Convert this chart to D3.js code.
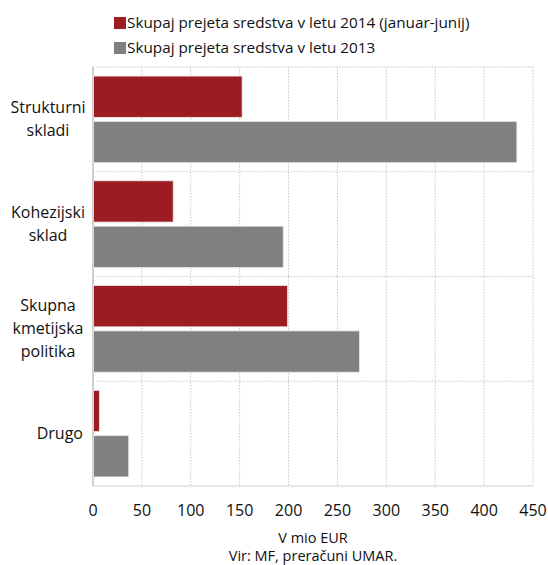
<!DOCTYPE html>
<html><head><meta charset="utf-8">
<script src="https://cdn.jsdelivr.net/npm/d3@7"></script>
<style>body{margin:0;background:#fff}text{font-family:"Open Sans",Lato,sans-serif;fill:#111}</style>
</head><body><svg id="c" width="548" height="565"></svg>
<script>
const categories = [["Strukturni","skladi"],["Kohezijski","sklad"],["Skupna","kmetijska","politika"],["Drugo"]];
const values2014 = [152, 81.5, 198.5, 6];
const values2013 = [433, 194, 272, 36];
const seriesNames = ["Skupaj prejeta sredstva v letu 2014 (januar-junij)","Skupaj prejeta sredstva v letu 2013"];
const seriesColors = ["#9C1C22","#808080"];
const xTicks = [0,50,100,150,200,250,300,350,400,450];

const svg = d3.select("#c");
const L=93,R=533,T=67,B=486;
const x = d3.scaleLinear().domain([0,450]).range([L,R]);
const y = d3.scaleBand().domain(d3.range(categories.length)).range([T,B]);
const sub = d3.scaleBand().domain([0,1]).range([0,y.bandwidth()]).paddingInner(0.09).paddingOuter(0.2);

// grid
svg.append("g").selectAll("line").data(xTicks.slice(1,-1)).join("line")
 .attr("x1",d=>x(d)).attr("x2",d=>x(d)).attr("y1",T).attr("y2",B)
 .attr("stroke","#c8c8c8").attr("stroke-dasharray","1.5,1.5");
svg.append("g").selectAll("line").data(d3.range(categories.length)).join("line")
 .attr("x1",L).attr("x2",R).attr("y1",d=>y(d)).attr("y2",d=>y(d))
 .attr("stroke","#c8c8c8").attr("stroke-dasharray","1.5,1.5");
svg.append("line").attr("x1",R).attr("x2",R).attr("y1",T).attr("y2",B).attr("stroke","#c8c8c8").attr("stroke-dasharray","1.5,1.5");
svg.append("line").attr("x1",L).attr("x2",R).attr("y1",B).attr("y2",B).attr("stroke","#d0d0d0");
svg.append("line").attr("x1",L).attr("x2",L).attr("y1",T).attr("y2",B).attr("stroke","#b0b0b0").attr("stroke-width",1.2);

// bars
[values2014, values2013].forEach((vals,si)=>{
  svg.append("g").selectAll("rect").data(vals).join("rect")
   .attr("x",x(0)+0.5).attr("y",(d,i)=>y(i)+sub(si))
   .attr("width",d=>x(d)-x(0)).attr("height",sub.bandwidth())
   .attr("fill",seriesColors[si]).attr("stroke","#e8e8e8").attr("stroke-width",0.8);
});

// category labels
categories.forEach((lines,i)=>{
  const cy = y(i)+y.bandwidth()/2;
  const n = lines.length, lh = 23;
  const single = n===1;
  lines.forEach((t,j)=>{
    svg.append("text").attr("x",single?83:48).attr("text-anchor",single?"end":"middle")
     .attr("y",cy+(j-(n-1)/2)*lh).attr("dy","0.35em").attr("font-size",16).text(t);
  });
});

// x ticks
svg.append("g").selectAll("text").data(xTicks).join("text")
 .attr("x",d=>x(d)).attr("y",516).attr("text-anchor","middle").attr("font-size",16).text(d=>d);

svg.append("text").attr("x",313).attr("y",543).attr("text-anchor","middle").attr("font-size",14.5).text("V mio EUR");
svg.append("text").attr("x",313).attr("y",561).attr("text-anchor","middle").attr("font-size",14.5).text("Vir: MF, preračuni UMAR.");

// legend
seriesNames.forEach((s,i)=>{
  const ly = 23 + i*25;
  svg.append("rect").attr("x",114).attr("y",ly-6).attr("width",12).attr("height",12).attr("fill",seriesColors[i]);
  svg.append("text").attr("x",127).attr("y",ly).attr("dy","0.35em").attr("font-size",15.3).text(s);
});
</script></body></html>
